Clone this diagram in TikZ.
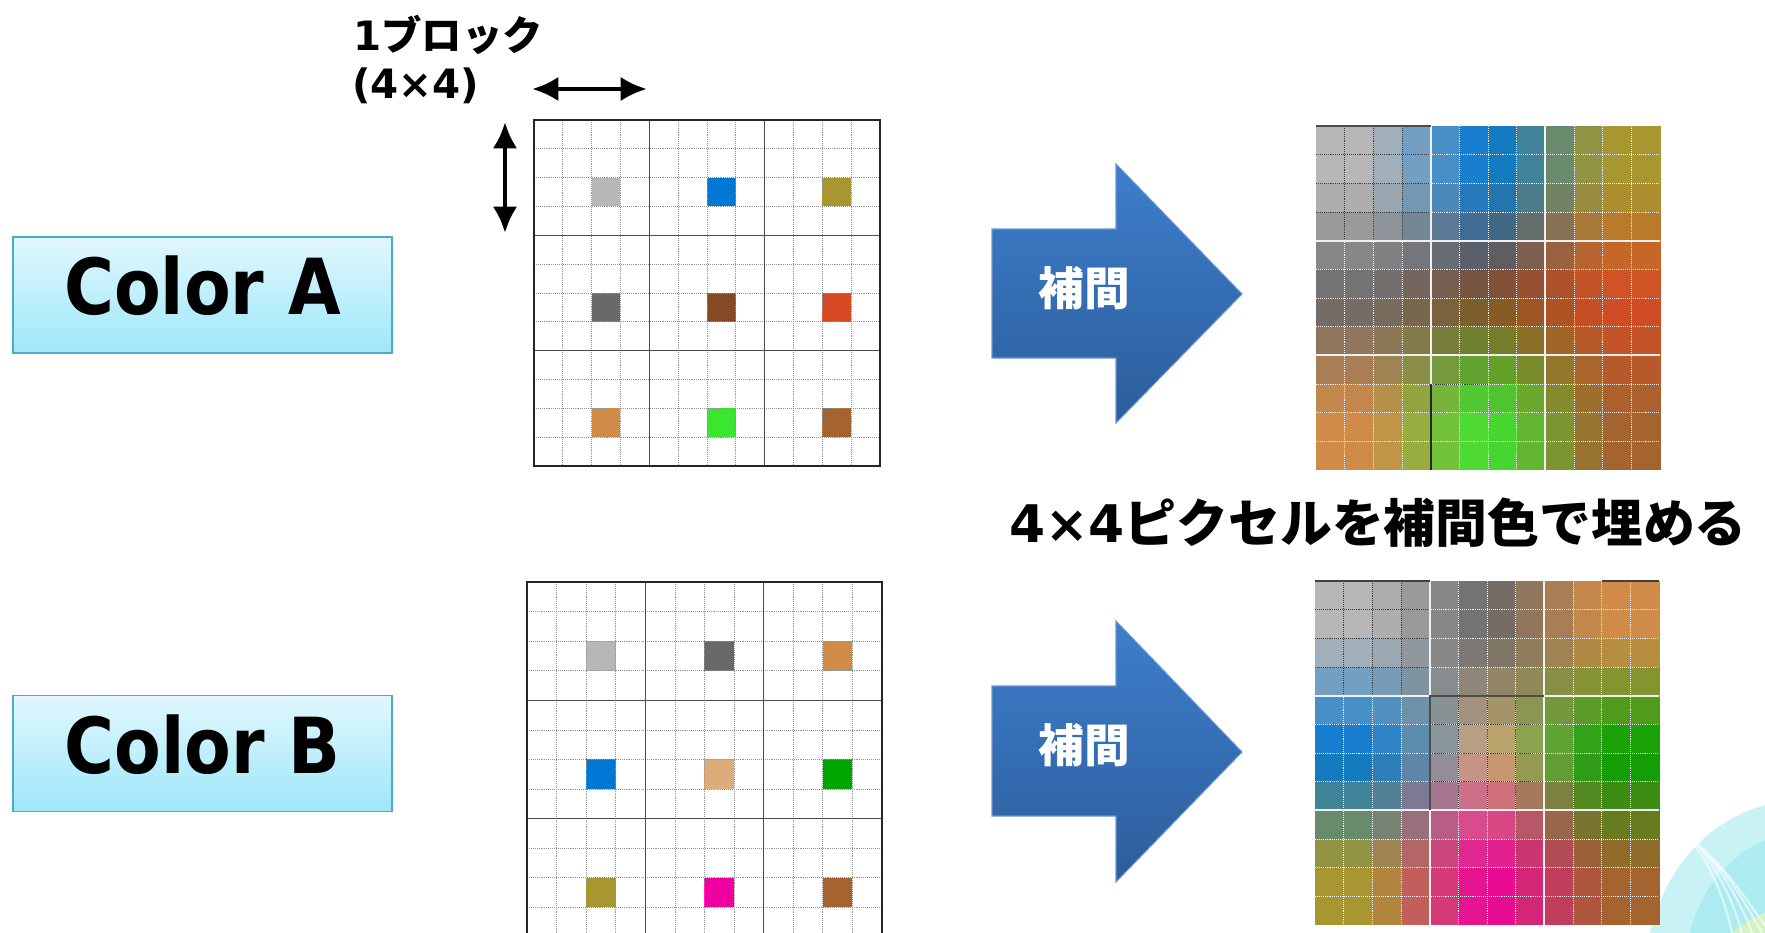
\documentclass[tikz,border=0pt]{standalone}
\usepackage{fontspec}
\setmainfont{DejaVu Sans}
\newfontfamily\jpfont{Noto Sans CJK JP}
\newfontfamily\widefont{DejaVu Sans}[FakeStretch=0.88]
\usetikzlibrary{arrows.meta}

\definecolor{boxtop}{RGB}{225,247,253}
\definecolor{boxbottom}{RGB}{158,231,250}
\definecolor{boxedge}{RGB}{75,172,198}
\definecolor{arrowtop}{RGB}{62,126,204}
\definecolor{arrowbottom}{RGB}{44,93,155}
\definecolor{arrowedge}{RGB}{105,150,212}
\definecolor{swoosh}{RGB}{118,222,228}
% sample pixels, row then column
\definecolor{ca00}{RGB}{183,183,183}
\definecolor{ca01}{RGB}{0,119,212}
\definecolor{ca02}{RGB}{168,151,48}
\definecolor{ca10}{RGB}{105,105,105}
\definecolor{ca11}{RGB}{135,73,35}
\definecolor{ca12}{RGB}{214,73,35}
\definecolor{ca20}{RGB}{208,139,72}
\definecolor{ca21}{RGB}{58,230,48}
\definecolor{ca22}{RGB}{165,99,48}
\definecolor{cb00}{RGB}{183,183,183}
\definecolor{cb01}{RGB}{105,105,105}
\definecolor{cb02}{RGB}{208,139,72}
\definecolor{cb10}{RGB}{0,119,212}
\definecolor{cb11}{RGB}{220,172,122}
\definecolor{cb12}{RGB}{0,166,0}
\definecolor{cb20}{RGB}{168,151,48}
\definecolor{cb21}{RGB}{240,0,160}
\definecolor{cb22}{RGB}{165,99,48}

\tikzset{
  dots/.style={gray!85, line width=0.45pt, dash pattern=on 0.55pt off 0.55pt},
  dots-light/.style={white!90!gray, line width=0.45pt, dash pattern=on 0.55pt off 0.55pt},
  dots-dark/.style={black!75, line width=0.45pt, dash pattern=on 0.55pt off 0.55pt},
  block-line/.style={black!70, line width=0.9pt},
  block-line-light/.style={white!88!gray, line width=1.1pt},
  grid-frame/.style={black!85, line width=1.4pt},
  colorbox/.style={rectangle, inner sep=0pt, top color=boxtop, bottom color=boxbottom,
    draw=boxedge, line width=1.1pt, minimum width=7.58cm, minimum height=2.32cm,
    text depth=0.38cm, font=\widefont\bfseries\fontsize{44}{44}\selectfont},
  span-arrow/.style={{Latex[length=15pt,width=14pt]}-{Latex[length=15pt,width=14pt]}, line width=2.7pt},
  interp-arrow/.style={top color=arrowtop, bottom color=arrowbottom, draw=arrowedge, line width=0.6pt},
  interp-label/.style={text=white, inner sep=0pt, font=\jpfont\bfseries\fontsize{26}{26}\selectfont}
}

% dotted pixel lines of a 12x12 grid (3x3 blocks of 4x4)
\newcommand{\pixellines}[1]{
  \foreach \k in {1,...,11}{
    \draw[#1] (\k,0) -- (\k,12);
    \draw[#1] (0,\k) -- (12,\k);
  }
}
% fill every pixel with the blend of the four nearest samples
\newcommand{\blendcells}[1]{
  \foreach \i in {0,...,11}{
    \foreach \j in {0,...,11}{
      \pgfmathsetmacro\uu{max(0,min(2,(\i-1.5)/4))}
      \pgfmathsetmacro\vv{max(0,min(2,(\j-1.5)/4))}
      \pgfmathtruncatemacro\bi{min(1,floor(\uu))}
      \pgfmathtruncatemacro\bj{min(1,floor(\vv))}
      \pgfmathtruncatemacro\bii{\bi+1}
      \pgfmathtruncatemacro\bjj{\bj+1}
      \pgfmathtruncatemacro\pu{round(100*(1-\uu+\bi))}
      \pgfmathtruncatemacro\pv{round(100*(1-\vv+\bj))}
      \colorlet{rowtop}{#1\bj\bi!\pu!#1\bj\bii}
      \colorlet{rowbot}{#1\bjj\bi!\pu!#1\bjj\bii}
      \colorlet{cellfill}{rowtop!\pv!rowbot}
      \fill[cellfill] (\i,\j) rectangle ++(1.02,1.02);
    }
  }
}

\begin{document}
\begin{tikzpicture}[x=0.02cm, y=-0.02cm]
  \clip (0,0) rectangle (1765,933);

  % background swoosh in the corner
  \fill[swoosh, opacity=0.4] (1650,933) .. controls (1665,870) and (1705,822) .. (1765,805) -- (1765,933) -- cycle;
  \fill[swoosh, opacity=0.35] (1690,933) .. controls (1700,890) and (1730,855) .. (1765,840) -- (1765,933) -- cycle;
  \fill[yellow!40, opacity=0.5] (1732,933) .. controls (1745,922) and (1755,916) .. (1765,913) -- (1765,933) -- cycle;
  \foreach \s in {0,10,20,30,40}
    \draw[white, line width=1.3pt, opacity=0.55] (1672+\s,818+\s) .. controls (1700+\s,845+\s) and (1722+\s,885+\s) .. (1732+\s,933);

  % labels on the left
  \node[colorbox] (colorA) at (202.5,295) {Color A};
  \node[colorbox] (colorB) at (202.5,753.5) {Color B};

  % block size
  \node[anchor=west, inner sep=0pt, font=\bfseries\fontsize{23}{23}\selectfont] (blockname) at (353,35) {1{\jpfont ブロック}};
  \node[anchor=west, inner sep=0pt, font=\bfseries\fontsize{23}{23}\selectfont] (blocksize) at (352,86) {(4×4)};
  \coordinate (spanL) at (532,89);
  \coordinate (spanR) at (647,89);
  \coordinate (spanT) at (505,122);
  \coordinate (spanB) at (505,233);
  \draw[span-arrow] (spanL) -- (spanR);
  \draw[span-arrow] (spanT) -- (spanB);

  % sampled grid A
  \begin{scope}[shift={(534,120)}, x=0.5767cm, y=-0.5767cm]
    \foreach \r in {0,1,2}
      \foreach \c in {0,1,2}
        \fill[ca\r\c] (4*\c+2,4*\r+2) rectangle ++(1,1);
    \pixellines{dots}
    \foreach \k in {4,8}{
      \draw[block-line] (\k,0) -- (\k,12);
      \draw[block-line] (0,\k) -- (12,\k);
    }
    \draw[grid-frame] (0,0) rectangle (12,12);
  \end{scope}

  % sampled grid B
  \begin{scope}[shift={(527,582)}, x=0.5917cm, y=-0.5917cm]
    \foreach \r in {0,1,2}
      \foreach \c in {0,1,2}
        \fill[cb\r\c] (4*\c+2,4*\r+2) rectangle ++(1,1);
    \pixellines{dots}
    \foreach \k in {4,8}{
      \draw[block-line] (\k,0) -- (\k,12);
      \draw[block-line] (0,\k) -- (12,\k);
    }
    \draw[grid-frame] (0,0) rectangle (12,12);
  \end{scope}

  % interpolation arrows
  \shade[interp-arrow] (992,229) -- (1116,229) -- (1116,164) -- (1242,294) -- (1116,423) -- (1116,358) -- (992,358) -- cycle;
  \node[interp-label] (interpA) at (1084,288) {補間};
  \shade[interp-arrow] (992,686) -- (1116,686) -- (1116,621) -- (1242,752) -- (1116,882) -- (1116,816) -- (992,816) -- cycle;
  \node[interp-label] (interpB) at (1084,745) {補間};

  % interpolated grid A
  \begin{scope}[shift={(1316,126)}, x=0.5733cm, y=-0.5733cm]
    \blendcells{ca}
    \pixellines{dots-light}
    \foreach \k in {1,2,3}{
      \draw[dots-dark] (\k,0) -- (\k,4);
      \draw[dots-dark] (0,\k) -- (4,\k);
    }
    \foreach \k in {4,8}{
      \draw[block-line-light] (\k,0) -- (\k,12);
      \draw[block-line-light] (0,\k) -- (12,\k);
    }
    \draw[black!70, line width=0.8pt] (0,0) -- (4,0);
    \draw[black!85, line width=1pt] (4,9) -- (4,12);
    \draw[dots-dark] (4,9) -- (6,9);
  \end{scope}

  \node[font=\jpfont\bfseries\fontsize{29.5}{29.5}\selectfont] (caption) at (1378,523)
    {{\normalfont\bfseries 4×4}ピクセルを補間色で埋める};

  % interpolated grid B
  \begin{scope}[shift={(1315,581)}, x=0.5733cm, y=-0.5733cm]
    \blendcells{cb}
    \pixellines{dots-light}
    \foreach \k in {1,2,3}{
      \draw[dots-dark] (\k,0) -- (\k,4);
      \draw[dots-dark] (0,\k) -- (4,\k);
      \draw[dots-dark] (4+\k,4) -- (4+\k,8);
      \draw[dots-dark] (4,4+\k) -- (8,4+\k);
    }
    \foreach \k in {4,8}{
      \draw[block-line-light] (\k,0) -- (\k,12);
      \draw[block-line-light] (0,\k) -- (12,\k);
    }
    \draw[black!75, line width=0.8pt] (0,0) -- (4,0);
    \draw[black!75, line width=0.8pt] (10,0) -- (12,0);
    \draw[black!70, line width=1pt] (4,8) -- (4,4) -- (8,4);
  \end{scope}
\end{tikzpicture}
\end{document}
